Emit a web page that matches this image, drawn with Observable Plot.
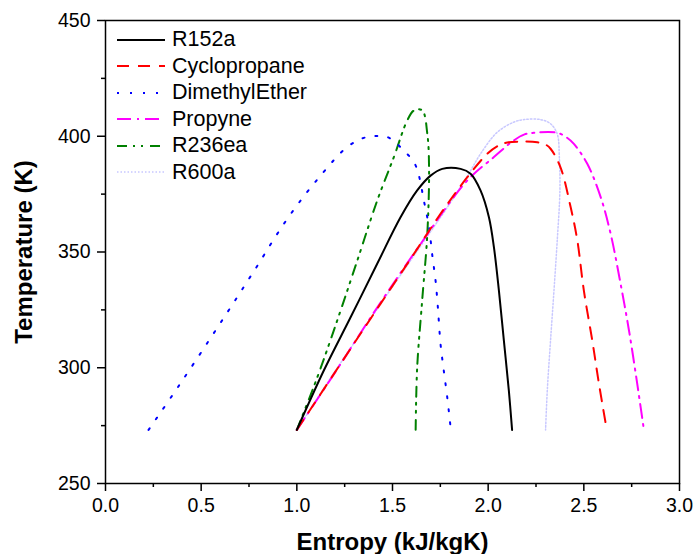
<!DOCTYPE html>
<html><head><meta charset="utf-8">
<script src="https://cdn.jsdelivr.net/npm/d3@7"></script>
<script src="https://cdn.jsdelivr.net/npm/@observablehq/plot@0.6"></script>
<style>
body{margin:0;background:#fff;}
#chart{position:relative;width:694px;height:554px;font-family:"Liberation Sans",Arial,sans-serif;}
#legend{position:absolute;left:117px;top:26.5px;}
.row{display:flex;align-items:center;height:26.5px;font-size:21.5px;color:#000;white-space:nowrap;}
.row svg{margin-right:7px;display:block;}
</style></head><body><div id="chart"><div id="legend"></div></div>
<script>
// Series names
const names = ["R152a","Cyclopropane","DimethylEther","Propyne","R236ea","R600a"];
// [entropy kJ/kgK, temperature K]
const r152a = [[1.0,273.15],[1.141,298.8],[1.281,321.8],[1.42,344.9],[1.542,365.0],[1.629,376.6],[1.699,383.0],[1.76,385.9],[1.856,385.9],[1.908,383.8],[1.96,376.6],[2.004,365.0],[2.03,352.1],[2.056,333.4],[2.082,311.8],[2.108,290.2],[2.125,273.15]];
const cyclopropane = [[1.0,273.15],[1.263,306.0],[1.437,327.6],[1.612,349.2],[1.751,366.5],[1.891,382.3],[1.995,392.4],[2.05,395.8],[2.1,397.3],[2.257,397.4],[2.3,396.4],[2.326,394.6],[2.378,386.6],[2.431,369.4],[2.466,355.0],[2.5,333.4],[2.544,311.8],[2.579,293.1],[2.62,273.15]];
const dimethylEther = [[0.225,273.15],[0.384,292.3],[0.575,316.1],[0.767,340.6],[0.95,364.3],[1.124,383.0],[1.263,395.3],[1.35,399.3],[1.42,400.1],[1.48,399.4],[1.559,393.8],[1.612,388.8],[1.638,383.0],[1.664,372.2],[1.691,360.7],[1.707,349.2],[1.725,337.7],[1.737,326.2],[1.751,310.3],[1.768,298.8],[1.786,287.3],[1.805,273.15]];
const propyne = [[1.0,273.15],[1.2,298.0],[1.4,323.5],[1.647,353.5],[1.891,380.9],[2.03,391.0],[2.134,398.2],[2.19,400.8],[2.239,401.5],[2.361,401.5],[2.41,399.5],[2.448,396.7],[2.518,388.1],[2.588,373.7],[2.64,357.9],[2.692,336.3],[2.736,316.1],[2.779,293.1],[2.814,273.15]];
const r236ea = [[1.0,273.15],[1.107,295.9],[1.211,320.4],[1.316,346.3],[1.42,372.2],[1.507,391.0],[1.577,406.8],[1.612,411.1],[1.655,411.2],[1.682,401.0],[1.691,386.6],[1.682,357.9],[1.655,329.0],[1.629,300.2],[1.621,273.15]];
const r600a = [[1.0,273.15],[1.2,298.5],[1.4,323.0],[1.6,347.0],[1.8,371.0],[1.9,384.0],[1.96,392.4],[2.047,401.7],[2.134,406.1],[2.187,407.2],[2.274,407.2],[2.326,405.4],[2.361,401.0],[2.372,391.0],[2.375,376.6],[2.361,355.0],[2.344,333.4],[2.326,311.8],[2.309,290.2],[2.30,273.15]];
const seriesData = [r152a, cyclopropane, dimethylEther, propyne, r236ea, r600a];

// Axis ticks
const xTicks = [0,0.5,1.0,1.5,2.0,2.5,3.0];
const xMinor = [0.25,0.75,1.25,1.75,2.25,2.75];
const yTicks = [250,300,350,400,450];
const yMinor = [275,325,375,425];
const xTitle = "Entropy (kJ/kgK)";
const yTitle = "Temperature (K)";

// Styles
const colors = ["#000000","#ff0000","#0000ff","#ff00ff","#008000","#c8c8ff"];
const dashes = [null,"12,9","2,11","14,6,2,6","10,6,2,6,2,7","1.5,2"];
const widths = [2,2,2,2,2,1.5];

const lineMarks = seriesData.map((data,i) => Plot.line(data, {
  x: d => d[0], y: d => d[1], stroke: colors[i], strokeWidth: widths[i],
  strokeDasharray: dashes[i], curve: "catmull-rom"
}));

const plot = Plot.plot({
  width: 694, height: 554,
  marginLeft: 105, marginRight: 15, marginTop: 20, marginBottom: 71,
  style: {fontFamily: '"Liberation Sans", Arial, sans-serif', fontSize: "19.5px", color: "#000", background: "white"},
  x: {domain: [0,3], label: null},
  y: {domain: [250,450], label: null},
  marks: [
    ...lineMarks.slice().reverse(),
    Plot.frame({stroke: "#000", strokeWidth: 1.5}),
    Plot.axisX({ticks: xTicks, tickSize: 8, tickPadding: 7, tickFormat: d => d.toFixed(1), label: null, strokeWidth: 1.5}),
    Plot.axisX({ticks: xMinor, tickSize: 4, text: null, label: null, strokeWidth: 1.5}),
    Plot.axisY({ticks: yTicks, tickSize: 8, tickPadding: 7, tickFormat: d => String(d), label: null, strokeWidth: 1.5}),
    Plot.axisY({ticks: yMinor, tickSize: 4, text: null, label: null, strokeWidth: 1.5}),
    Plot.text([xTitle], {text: d => d, frameAnchor: "bottom", lineAnchor: "middle", textAnchor: "middle", dy: 59, fontSize: 24, fontWeight: "bold"}),
    Plot.text([yTitle], {text: d => d, frameAnchor: "left", lineAnchor: "middle", textAnchor: "middle", dx: -81, rotate: -90, fontSize: 24, fontWeight: "bold"})
  ]
});
document.getElementById("chart").prepend(plot);

// Legend
const legend = document.getElementById("legend");
names.forEach((name,i) => {
  const row = document.createElement("div");
  row.className = "row";
  const ns = "http://www.w3.org/2000/svg";
  const svg = document.createElementNS(ns, "svg");
  svg.setAttribute("width", 48); svg.setAttribute("height", 8);
  const ln = document.createElementNS(ns, "line");
  ln.setAttribute("x1", 0); ln.setAttribute("x2", 48);
  ln.setAttribute("y1", 4); ln.setAttribute("y2", 4);
  ln.setAttribute("stroke", colors[i]);
  ln.setAttribute("stroke-width", widths[i]);
  if (dashes[i]) ln.setAttribute("stroke-dasharray", dashes[i]);
  svg.appendChild(ln);
  row.appendChild(svg);
  const span = document.createElement("span");
  span.textContent = name;
  row.appendChild(span);
  legend.appendChild(row);
});
</script></body></html>
